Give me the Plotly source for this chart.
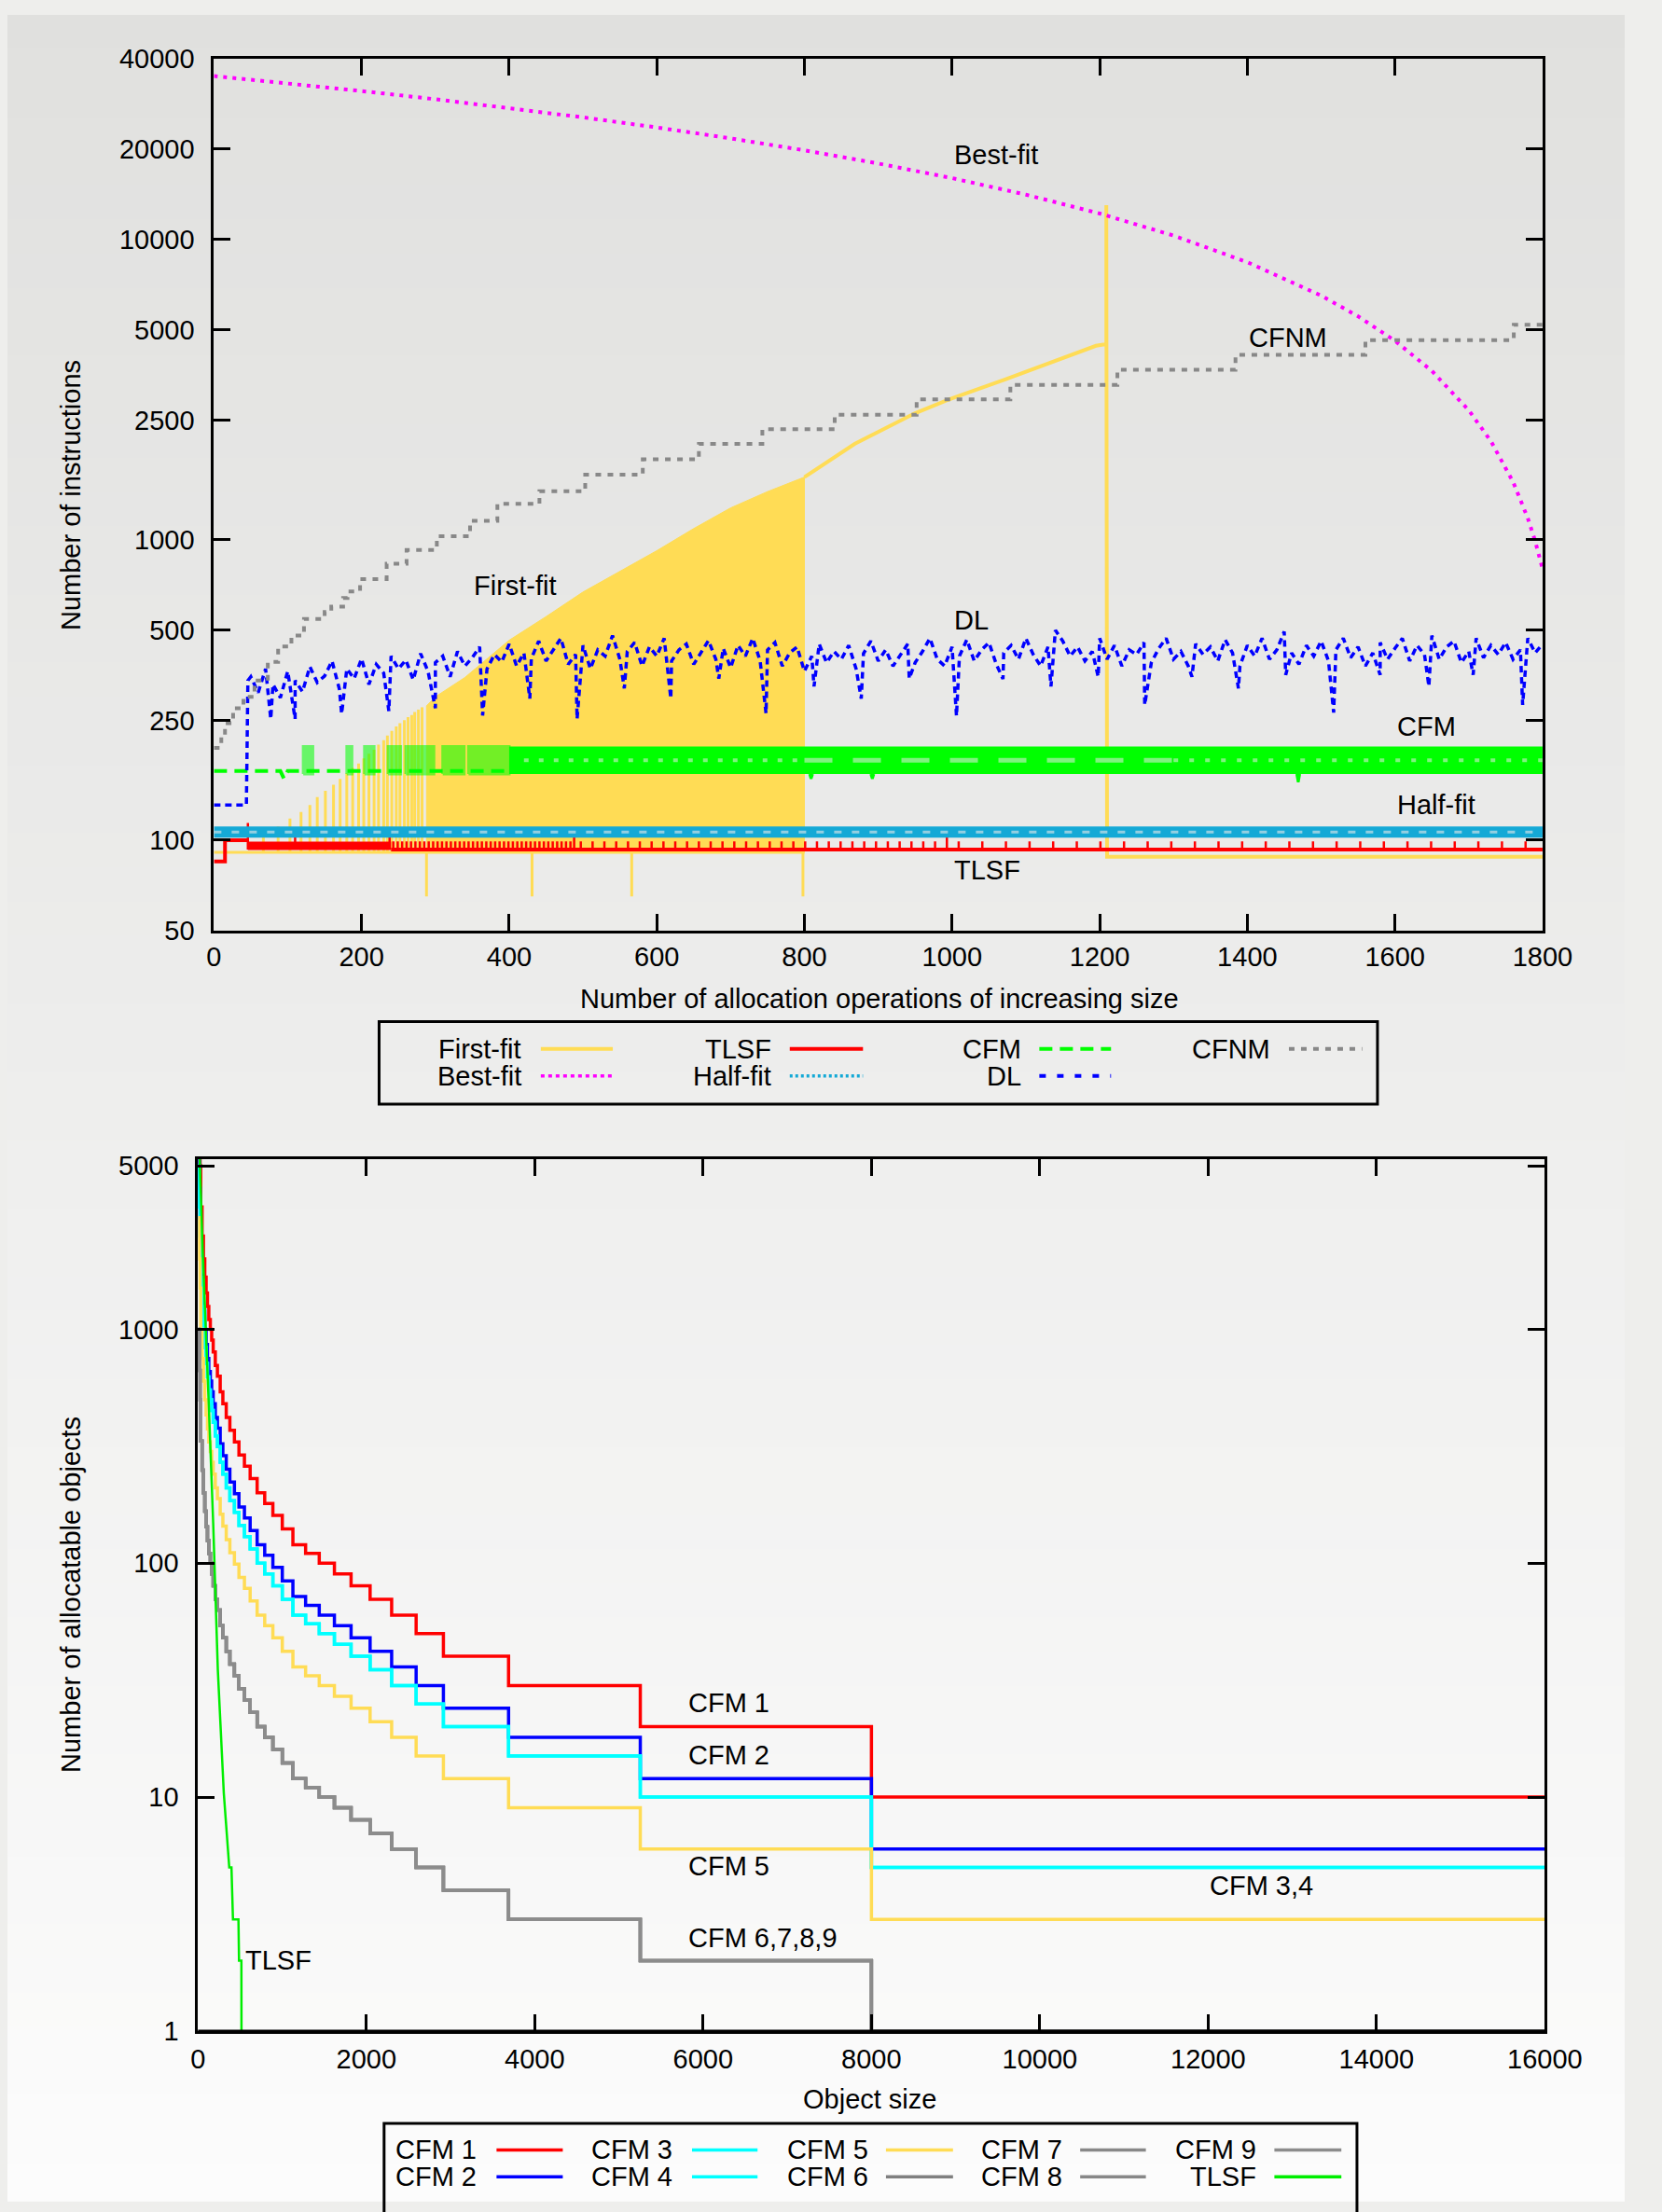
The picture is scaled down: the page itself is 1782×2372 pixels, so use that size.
import math
import plotly.graph_objects as go

W, H = 1782, 2372
FONT = "Liberation Sans, Arial, sans-serif"
FS = 29

# ---------------------------------------------------------------- top chart data
OPS_TICKS = [0, 200, 400, 600, 800, 1000, 1200, 1400, 1600, 1800]
INSTR_TICKS = [50, 100, 250, 500, 1000, 2500, 5000, 10000, 20000, 40000]

# Best-fit
BEST_X = [0, 100, 200, 300, 400, 500, 600, 700, 800, 900, 1000, 1100, 1200, 1300,
          1400, 1500, 1550, 1600, 1650, 1700, 1730, 1760, 1780, 1790, 1800]
BEST_Y = [35000, 33100, 31200, 29300, 27400, 25500, 23600, 21700, 19800, 17900, 16000,
          14100, 12200, 10300, 8400, 6500, 5550, 4600, 3650, 2700, 2130, 1560, 1180, 990, 800]

# First-fit
FF_BASE_X = [0, 800]
FF_BASE_Y = [91, 91]
FF_SPIKE_X = [67, 87, 103, 118, 130, 140, 151, 162, 171, 180, 188, 196, 203, 210,
              217, 223, 230, 235, 241, 247, 252, 258, 263, 268, 272, 277, 282]
FF_SPIKE_Y = [103, 111, 118, 124, 131, 139, 146, 153, 160, 167, 174, 180, 187, 194,
              200, 208, 215, 223, 231, 239, 245, 251, 257, 261, 267, 272, 277]
FF_ENV_X = [288, 300, 340, 400, 450, 500, 550, 600, 650, 700, 750, 800]
FF_ENV_Y = [280, 300, 348, 463, 555, 670, 785, 920, 1090, 1277, 1447, 1617]
FF_DIP_X = [288, 431, 566, 798]
FF_DIP_Y = [65, 65, 65, 65]
FF_TAIL_X = [800, 868, 950, 1000, 1072, 1195, 1209, 1209, 1210, 1800]
FF_TAIL_Y = [1617, 2085, 2640, 2960, 3420, 4426, 4480, 13000, 88, 88]

# TLSF
TLSF_STEP_X = [0, 15, 15, 46]
TLSF_STEP_Y = [85, 85, 100, 100]
TLSF_BAND_X = [46, 240]
TLSF_BAND_LO = [92.7, 92.7]
TLSF_BAND_HI = [98.8, 98.8]
TLSF_BASE_X = [240, 1800]
TLSF_BASE_Y = [93, 93]
TLSF_COMB_X = [243, 249, 255, 261, 267, 273, 279, 285, 291, 297, 303, 309, 315, 321,
               327, 333, 339, 345, 351, 357, 363, 369, 375, 381, 387, 393, 399, 405,
               411, 417, 423, 429, 435, 441, 447, 453, 459, 465, 471, 477, 483,
               497, 513, 529, 545, 561, 577, 593, 609, 625, 641, 657, 673, 689, 705,
               721, 737, 753, 769, 785, 801, 817, 833, 849, 865, 881, 897, 913, 929,
               945, 961, 977,
               1009, 1041, 1073, 1105, 1137, 1169, 1201, 1233, 1265, 1297, 1329, 1361,
               1393, 1425, 1457, 1489, 1521, 1553, 1585, 1617, 1649, 1681, 1713, 1745, 1777]
TLSF_COMB_TOP = 99
TLSF_TALL_X = [46, 110, 238, 488, 993]
TLSF_TALL_Y = [114, 103, 103, 103, 103]

# Half-fit (braided band)
HALF_X = [0, 1800]
HALF_LO = [102, 102]
HALF_HI = [111, 111]

# CFM
CFM_BASE_X = [0, 90, 95, 100, 400]
CFM_BASE_Y = [170, 170, 160, 170, 170]
CFM_CLUSTER_X0 = [121, 180, 204, 236, 260, 310, 345]
CFM_CLUSTER_X1 = [134, 187, 217, 253, 298, 339, 400]
CFM_BAND_X = [400, 1800]
CFM_LO = [166, 166]
CFM_HI = [205, 205]
CFM_DIP_X = [809, 892, 1469]
CFM_DIP_Y = [160, 160, 156]

# DL
DL_EARLY_X = [0, 44, 46]
DL_EARLY_Y = [131, 131, 340]
DL_X = list(range(50, 1801, 10))
DL_Y = [350, 310, 372, 330, 298, 365, 340, 312, 378, 335,
        352, 395, 318, 372, 345, 402, 330, 385, 360, 410,
        372, 398, 342, 418, 365, 390, 410, 350, 425, 380,
        405, 440, 372, 415, 392, 450, 380, 420, 402, 460,
        395, 430, 470, 385, 415, 445, 372, 430, 410, 480,
        400, 425, 455, 380, 440, 410, 470, 395, 430, 450,
        385, 420, 462, 400, 435, 375, 445, 410, 470, 395,
        430, 455, 380, 420, 440, 365, 410, 450, 390, 425,
        400, 445, 372, 418, 460, 395, 430, 380, 415, 450,
        390, 425, 470, 400, 380, 440, 410, 465, 395, 430,
        455, 385, 420, 445, 400, 470, 415, 380, 440, 500,
        460, 410, 440, 395, 425, 470, 400, 445, 380, 430,
        415, 455, 390, 435, 470, 400, 425, 380, 450, 415,
        440, 395, 465, 420, 380, 445, 410, 470, 400, 430,
        495, 420, 385, 445, 410, 460, 395, 430, 470, 405,
        440, 380, 420, 455, 400, 435, 470, 395, 445, 415,
        480, 400, 440, 460, 390, 425, 470, 405, 445, 415,
        455, 400, 430, 470, 420, 450]
DL_DIP_X = [77, 110, 173, 237, 300, 364, 428, 492, 556, 619, 684, 748, 813, 877, 942,
            1006, 1069, 1134, 1198, 1261, 1325, 1388, 1452, 1517, 1580, 1646, 1706, 1773]
DL_DIP_Y = [253, 253, 263, 269, 275, 260, 296, 253, 320, 296, 345, 264, 325, 296, 345,
            259, 344, 325, 350, 282, 350, 320, 355, 266, 355, 325, 355, 282]

# CFNM (staircase)
CFNM_X = [0, 10, 15, 26, 40, 55, 73, 87, 105, 122, 150, 159, 175, 181, 198, 234, 261,
          302, 347, 384, 441, 503, 581, 657, 743, 841, 952, 1079, 1224, 1384, 1560, 1761, 1800]
CFNM_Y = [203, 220, 245, 275, 300, 340, 392, 441, 480, 545, 575, 599, 640, 673, 740, 832,
          925, 1028, 1157, 1317, 1450, 1648, 1853, 2085, 2335, 2607, 2935, 3280, 3685,
          4130, 4625, 5200, 5200]

TOP_LABELS = [("Best-fit", 1000, 19140), ("CFNM", 1400, 4720), ("First-fit", 350, 706),
              ("DL", 1000, 540), ("CFM", 1600, 239), ("Half-fit", 1600, 131), ("TLSF", 1000, 79.6)]

# ---------------------------------------------------------------- bottom chart data
SIZE_TICKS = [0, 2000, 4000, 6000, 8000, 10000, 12000, 14000, 16000]
COUNT_TICKS = [1, 10, 100, 1000, 5000]
SIZE_BOUNDS = [0, 16, 24, 32, 48, 64, 80, 96, 112, 128, 146, 162, 180, 205, 230, 263, 295,
               335, 378, 432, 486, 551, 619, 702, 792, 889, 1001, 1127, 1278, 1440, 1620,
               1818, 2044, 2300, 2591, 2915, 3689, 5254, 8000, 16000]
CFM1_COUNTS = [10000, 10000, 6670, 5000, 3330, 2500, 2000, 1670, 1430, 1250, 1100, 1000, 900,
               800, 700, 630, 540, 480, 420, 370, 330, 290, 260, 230, 200, 180, 160, 140,
               120, 110, 100, 90, 80, 70, 60, 50, 40, 30, 20, 10]
CFM2_COUNTS = [6000, 6000, 4000, 3000, 2000, 1500, 1200, 1000, 860, 750, 660, 600, 540, 480,
               420, 378, 324, 288, 252, 222, 198, 174, 156, 138, 120, 108, 96, 84, 72, 66,
               60, 54, 48, 42, 36, 30, 24, 18, 12, 6]
CFM3_COUNTS = [5000, 5000, 3335, 2500, 1665, 1250, 1000, 835, 715, 625, 550, 500, 450, 400,
               350, 315, 270, 240, 210, 185, 165, 145, 130, 115, 100, 90, 80, 70, 60, 55,
               50, 45, 40, 35, 30, 25, 20, 15, 10, 5]
CFM4_COUNTS = CFM3_COUNTS
CFM5_COUNTS = [3000, 3000, 2000, 1500, 1000, 750, 600, 500, 430, 375, 330, 300, 270, 240,
               210, 189, 162, 144, 126, 111, 99, 87, 78, 69, 60, 54, 48, 42, 36, 33, 30,
               27, 24, 21, 18, 15, 12, 9, 6, 3]
CFM6_COUNTS = [1000, 1000, 667, 500, 333, 250, 200, 167, 143, 125, 110, 100, 90, 80, 70, 63,
               54, 48, 42, 37, 33, 29, 26, 23, 20, 18, 16, 14, 12, 11, 10, 9, 8, 7, 6, 5,
               4, 3, 2, 1]
CFM7_COUNTS = CFM6_COUNTS
CFM8_COUNTS = CFM6_COUNTS
CFM9_COUNTS = CFM6_COUNTS
TLSF_SIZE = [12, 54, 126, 180, 235, 306, 371, 397, 415, 480, 487, 515, 516]
TLSF_COUNT = [6500, 2230, 493, 148, 35, 10.4, 5, 5, 3, 3, 2, 2, 1]

BOTTOM_SERIES = [("CFM 1", CFM1_COUNTS, "#ff0000"), ("CFM 2", CFM2_COUNTS, "#0000ff"),
                 ("CFM 3", CFM3_COUNTS, "#00ffff"), ("CFM 4", CFM4_COUNTS, "#00ffff"),
                 ("CFM 5", CFM5_COUNTS, "#ffdc55"), ("CFM 6", CFM6_COUNTS, "#808080"),
                 ("CFM 7", CFM7_COUNTS, "#888888"), ("CFM 8", CFM8_COUNTS, "#888888"),
                 ("CFM 9", CFM9_COUNTS, "#8c8c8c")]
BOTTOM_LABELS = [("CFM 1", 5800, 25.3), ("CFM 2", 5800, 15.1), ("CFM 5", 5800, 5.08),
                 ("CFM 3,4", 12000, 4.2), ("CFM 6,7,8,9", 5800, 2.5), ("TLSF", 540, 2.0)]

# ---------------------------------------------------------------- styles
C_FF, C_BF, C_TLSF = "#ffdc55", "#ff00ff", "#ff0000"
C_HF, C_CFM, C_DL, C_CFNM = "#14a9d6", "#00ff00", "#0000ff", "#888888"
EYE_HF = "rgba(234,234,232,0.6)"
EYE_CFM = "rgba(234,234,232,0.55)"


def px(x):
    return x / W


def py(y):
    return 1 - y / H


def spikes(xs, y0, tops):
    X, Y = [], []
    for x, t in zip(xs, tops):
        X += [x, x, None]
        Y += [y0, t, None]
    return X, Y


fig = go.Figure()
T = dict(xaxis="x", yaxis="y")
B = dict(xaxis="x2", yaxis="y2")


def line(x, y, color, width, dash="solid", **kw):
    fig.add_trace(go.Scatter(x=x, y=y, mode="lines", line=dict(color=color, width=width, dash=dash),
                             showlegend=False, hoverinfo="skip", **kw))


def band(x0s, x1s, lo, hi, color, opacity=1.0, ax=T, edge=0):
    X, Y = [], []
    for a, b in zip(x0s, x1s):
        X += [a, b, b, a, a, None]
        Y += [lo, lo, hi, hi, lo, None]
    fig.add_trace(go.Scatter(x=X, y=Y, mode="lines", fill="toself", fillcolor=color,
                             line=dict(width=edge, color=color), opacity=opacity,
                             showlegend=False, hoverinfo="skip", **ax))


# ---- First-fit
line(FF_BASE_X, FF_BASE_Y, C_FF, 3, **T)
sx, sy = spikes(FF_SPIKE_X, FF_BASE_Y[0], FF_SPIKE_Y)
line(sx, sy, C_FF, 3, **T)
fig.add_trace(go.Scatter(x=[FF_ENV_X[0]] + FF_ENV_X + [FF_ENV_X[-1], FF_ENV_X[0]],
                         y=[FF_BASE_Y[0]] + FF_ENV_Y + [FF_BASE_Y[0], FF_BASE_Y[0]],
                         mode="lines", fill="toself", fillcolor=C_FF, line=dict(width=1, color=C_FF),
                         showlegend=False, hoverinfo="skip", **T))
dx, dy = spikes(FF_DIP_X, FF_BASE_Y[0], FF_DIP_Y)
line(dx, dy, C_FF, 3, **T)
line(FF_TAIL_X, FF_TAIL_Y, C_FF, 4, **T)

# ---- Best-fit
line(BEST_X, BEST_Y, C_BF, 4, dash="4px,6px", **T)

# ---- TLSF
line(TLSF_STEP_X, TLSF_STEP_Y, C_TLSF, 4, **T)
band([TLSF_BAND_X[0]], [TLSF_BAND_X[1]], TLSF_BAND_LO[0], TLSF_BAND_HI[0], C_TLSF)
line(TLSF_BASE_X, TLSF_BASE_Y, C_TLSF, 4, **T)
cx, cy = spikes(TLSF_COMB_X, TLSF_BASE_Y[0], [TLSF_COMB_TOP] * len(TLSF_COMB_X))
line(cx, cy, C_TLSF, 2.5, **T)
tx, ty = spikes(TLSF_TALL_X, TLSF_BASE_Y[0], TLSF_TALL_Y)
line(tx, ty, C_TLSF, 2.5, **T)

# ---- Half-fit
band([HALF_X[0]], [HALF_X[1]], HALF_LO[0], HALF_HI[0], C_HF)
line(HALF_X, [math.sqrt(HALF_LO[0] * HALF_HI[0])] * 2, EYE_HF, 3, dash="8px,11px", **T)

# ---- CFM
line(CFM_BASE_X, CFM_BASE_Y, C_CFM, 4, dash="14px,8px", **T)
band(CFM_CLUSTER_X0, CFM_CLUSTER_X1, CFM_LO[0], CFM_HI[0], C_CFM, opacity=0.55, edge=3)
band([CFM_BAND_X[0]], [CFM_BAND_X[1]], CFM_LO[0], CFM_HI[0], C_CFM)
mid = math.sqrt(CFM_LO[0] * CFM_HI[0])
line([420, 800], [mid, mid], EYE_CFM, 4, dash="5px,11px", **T)
line([800, 1300], [mid, mid], EYE_CFM, 5, dash="30px,22px", **T)
line([1300, 1800], [mid, mid], EYE_CFM, 4, dash="5px,12px", **T)
vx, vy = [], []
for x, d in zip(CFM_DIP_X, CFM_DIP_Y):
    vx += [x - 2, x, x + 2, None]
    vy += [CFM_LO[0], d, CFM_LO[0], None]
line(vx, vy, C_CFM, 3, **T)

# ---- DL
pts = sorted(list(zip(DL_X, DL_Y)) + list(zip(DL_DIP_X, DL_DIP_Y)))
line(DL_EARLY_X + [p[0] for p in pts], DL_EARLY_Y + [p[1] for p in pts], C_DL, 3.5,
     dash="7px,5px", **T)

# ---- CFNM
fig.add_trace(go.Scatter(x=CFNM_X, y=CFNM_Y, mode="lines",
                         line=dict(color=C_CFNM, width=4, dash="6px,7px", shape="hv"),
                         showlegend=False, hoverinfo="skip", **T))

# ---- bottom chart
for name, counts, col in BOTTOM_SERIES:
    fig.add_trace(go.Scatter(x=SIZE_BOUNDS, y=counts, mode="lines",
                             line=dict(color=col, width=3.5, shape="vh"),
                             showlegend=False, hoverinfo="skip", **B))
line(TLSF_SIZE, TLSF_COUNT, "#00ee00", 2.5, **B)

# ---------------------------------------------------------------- layout
axis_common = dict(showline=True, linewidth=3, linecolor="black", mirror="allticks",
                   ticks="inside", ticklen=18, tickwidth=3, tickcolor="black",
                   showgrid=False, zeroline=False,
                   tickfont=dict(family=FONT, size=FS, color="black"))

fig.update_layout(
    width=W, height=H, autosize=False,
    margin=dict(l=0, r=0, t=0, b=0),
    paper_bgcolor="rgb(238,238,236)", plot_bgcolor="rgba(0,0,0,0)",
    hovermode=False,
    font=dict(family=FONT, size=FS, color="black"),
    xaxis=dict(domain=[px(227.5), px(1691.5)], range=[0, 1800], tickvals=OPS_TICKS,
               ticktext=[str(v) for v in OPS_TICKS], anchor="y", ticklabelstandoff=0, **axis_common),
    yaxis=dict(domain=[py(995.3), py(47.5)], type="log", range=[math.log10(50), math.log10(40000)],
               tickvals=INSTR_TICKS, ticktext=[str(v) for v in INSTR_TICKS], anchor="x",
               ticklabelstandoff=12, **axis_common),
    xaxis2=dict(domain=[px(210), px(1694)], range=[0, 16000], tickvals=SIZE_TICKS,
                ticktext=[str(v) for v in SIZE_TICKS], anchor="y2", ticklabelstandoff=2, **axis_common),
    yaxis2=dict(domain=[py(2191.5), py(1243.3)], type="log", range=[0, 3.729],
                tickvals=COUNT_TICKS, ticktext=[str(v) for v in COUNT_TICKS], anchor="x2",
                ticklabelstandoff=12, **axis_common),
)

shapes = []
N = 64
for i in range(N):
    t = (i + 0.5) / N
    r = round(224 + t * 28)
    b = round(222 + t * 30)
    shapes.append(dict(type="rect", xref="paper", yref="paper", x0=0, x1=1,
                       y0=1 - (i + 1) / N - 0.002, y1=1 - i / N,
                       fillcolor=f"rgb({r},{r},{b})", line=dict(width=0), layer="below"))

# cover the part of the bottom frame where count == 1 lies on the axis
shapes.append(dict(type="line", xref="paper", yref="paper", x0=px(210), x1=px(1694),
                   y0=py(2191.5), y1=py(2191.5), line=dict(color="black", width=3), layer="above"))

annotations = []


def text(s, x, y, xanchor="center", xref="paper", yref="paper", angle=0):
    annotations.append(dict(text=s, x=x, y=y, xref=xref, yref=yref, xanchor=xanchor,
                            yanchor="middle", showarrow=False, textangle=angle,
                            font=dict(family=FONT, size=FS, color="black")))


# axis titles
text("Number of allocation operations of increasing size", px(960.6), py(1069.5))
text("Number of instructions", px(70), py(522), angle=-90)
text("Object size", px(950), py(2266))
text("Number of allocatable objects", px(70), py(1717), angle=-90)

# in-plot labels
for s, x, y in TOP_LABELS:
    text(s, x, math.log10(y), xanchor="left", xref="x", yref="y")
for s, x, y in BOTTOM_LABELS:
    text(s, x, math.log10(y), xanchor="left", xref="x2", yref="y2")

# top legend
shapes.append(dict(type="rect", xref="paper", yref="paper", x0=px(409.5), x1=px(1509.6),
                   y0=py(1184), y1=py(1094.3), line=dict(color="black", width=3)))
LEG1 = [("First-fit", 568.7, 587.7, 667, 1124, C_FF, "solid", 4),
        ("Best-fit", 568.7, 587.7, 667, 1153.3, C_BF, "4px,4px", 3.5),
        ("TLSF", 843.7, 862, 942.7, 1124, C_TLSF, "solid", 4),
        ("Half-fit", 843.7, 862, 942.7, 1153.3, C_HF, "3px,3px", 3.5),
        ("CFM", 1118.7, 1137, 1216, 1124, C_CFM, "14px,8px", 4),
        ("DL", 1118.7, 1137, 1216, 1153.3, C_DL, "7px,12px", 4),
        ("CFNM", 1393.8, 1412, 1492.8, 1124, C_CFNM, "6px,7px", 4)]
for s, tr, l0, l1, yy, col, dash, wd in LEG1:
    text(s, px(tr), py(yy), xanchor="right")
    shapes.append(dict(type="line", xref="paper", yref="paper", x0=px(l0), x1=px(l1),
                       y0=py(yy), y1=py(yy), line=dict(color=col, width=wd, dash=dash)))

# bottom legend
shapes.append(dict(type="rect", xref="paper", yref="paper", x0=px(415), x1=px(1487),
                   y0=py(2420), y1=py(2292), line=dict(color="black", width=3)))
cols2 = [(519.3, 538.9, 611.9), (735.3, 754.3, 826.5), (950.7, 968, 1041.9),
         (1164.6, 1182, 1254.4), (1378.6, 1396, 1469.8)]
leg2_items = [(n, c) for n, _, c in BOTTOM_SERIES] + [("TLSF", "#00ee00")]
for i, (s, col) in enumerate(leg2_items):
    tr, l0, l1 = cols2[i // 2]
    yy = 2320.7 if i % 2 == 0 else 2350
    text(s, px(tr), py(yy), xanchor="right")
    shapes.append(dict(type="line", xref="paper", yref="paper", x0=px(l0), x1=px(l1),
                       y0=py(yy), y1=py(yy), line=dict(color=col, width=3.5)))

fig.update_layout(shapes=shapes, annotations=annotations)

POST = ("var s=document.createElement('style');"
        "s.textContent='html,body{margin:0!important;padding:0!important;overflow:hidden!important;"
        "background:#fbfbfb!important;}';"
        "document.head.appendChild(s);")
fig.write_html("out.html", config={"displayModeBar": False, "responsive": False},
               post_script=POST)
